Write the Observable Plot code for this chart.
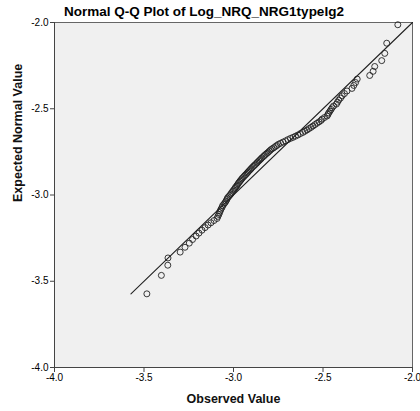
<!DOCTYPE html>
<html>
<head>
<meta charset="utf-8">
<script src="https://cdn.jsdelivr.net/npm/d3@7"></script>
<script src="https://cdn.jsdelivr.net/npm/@observablehq/plot@0.6"></script>
<style>
  body { margin: 0; background: #fff; font-family: "Liberation Sans", Arial, sans-serif; }
  #title { width: 420px; height: 20px; box-sizing: border-box; padding-top: 4px; padding-right: 12px; line-height: 16px;
           text-align: center; font-weight: bold; font-size: 13.5px; color: #000; }
</style>
</head>
<body>
<div id="title">Normal Q-Q Plot of Log_NRQ_NRG1typeIg2</div>
<div id="chart"></div>
<script>
const titleText = "Normal Q-Q Plot of Log_NRQ_NRG1typeIg2";
const xLabel = "Observed Value";
const yLabel = "Expected Normal Value";
const axisTicks = [-4.0, -3.5, -3.0, -2.5, -2.0];

const observed = [
-3.484,-3.403,-3.367,-3.366,-3.298,-3.271,-3.247,-3.229,-3.209,-3.193,
-3.176,-3.159,-3.142,-3.126,-3.109,-3.092,-3.087,-3.082,-3.078,-3.074,
-3.070,-3.064,-3.061,-3.054,-3.047,-3.042,-3.037,-3.034,-3.028,-3.021,
-3.015,-3.010,-3.004,-2.999,-2.993,-2.989,-2.983,-2.979,-2.974,-2.969,
-2.964,-2.959,-2.954,-2.949,-2.942,-2.936,-2.930,-2.924,-2.919,-2.913,
-2.907,-2.902,-2.896,-2.889,-2.883,-2.877,-2.870,-2.865,-2.858,-2.852,
-2.846,-2.841,-2.833,-2.827,-2.820,-2.813,-2.806,-2.799,-2.792,-2.784,
-2.775,-2.766,-2.758,-2.749,-2.737,-2.723,-2.709,-2.696,-2.682,-2.668,
-2.654,-2.640,-2.626,-2.612,-2.601,-2.589,-2.578,-2.567,-2.556,-2.545,
-2.534,-2.522,-2.511,-2.505,-2.492,-2.477,-2.472,-2.468,-2.461,-2.455,
-2.449,-2.441,-2.425,-2.419,-2.412,-2.402,-2.393,-2.380,-2.366,-2.338,
-2.328,-2.318,-2.309,-2.239,-2.220,-2.211,-2.172,-2.155,-2.144,-2.082
];

const expected = [
-3.573,-3.466,-3.407,-3.365,-3.331,-3.303,-3.279,-3.258,-3.238,-3.221,
-3.204,-3.189,-3.174,-3.161,-3.148,-3.136,-3.124,-3.113,-3.102,-3.092,
-3.082,-3.072,-3.062,-3.053,-3.044,-3.035,-3.026,-3.018,-3.010,-3.002,
-2.994,-2.986,-2.978,-2.971,-2.963,-2.956,-2.949,-2.942,-2.934,-2.927,
-2.920,-2.914,-2.907,-2.900,-2.893,-2.886,-2.880,-2.873,-2.867,-2.860,
-2.854,-2.848,-2.841,-2.834,-2.828,-2.822,-2.815,-2.809,-2.802,-2.796,
-2.790,-2.784,-2.777,-2.771,-2.764,-2.758,-2.752,-2.745,-2.738,-2.732,
-2.726,-2.719,-2.713,-2.706,-2.700,-2.693,-2.686,-2.679,-2.672,-2.666,
-2.659,-2.652,-2.644,-2.637,-2.630,-2.623,-2.615,-2.608,-2.600,-2.592,
-2.584,-2.576,-2.568,-2.560,-2.551,-2.542,-2.533,-2.524,-2.514,-2.504,
-2.494,-2.484,-2.473,-2.462,-2.450,-2.438,-2.425,-2.412,-2.397,-2.382,
-2.365,-2.348,-2.328,-2.307,-2.283,-2.255,-2.221,-2.179,-2.120,-2.013
];

const points = observed.map((x, i) => ({x, y: expected[i]}));
const lo = d3.min(expected);
const hi = d3.max(axisTicks);
const refLine = [{x: lo, y: lo}, {x: hi, y: hi}];
const fmt = d => d.toFixed(1);
const font = "'Liberation Sans', Arial, sans-serif";

const chart = Plot.plot({
  width: 420,
  height: 391,
  marginLeft: 54,
  marginRight: 8,
  marginTop: 2,
  marginBottom: 44,
  style: {fontFamily: font, fontSize: "10px", color: "#000", background: "#fff", overflow: "visible"},
  x: {domain: [-4, -2], label: null},
  y: {domain: [-4, -2], label: null},
  marks: [
    Plot.frame({fill: "#F0F0F0", stroke: "#666"}),
    Plot.ruleX([d3.min(axisTicks)], {stroke: "#444"}),
    Plot.ruleY([d3.min(axisTicks)], {stroke: "#444"}),
    Plot.axisX({ticks: axisTicks, tickFormat: fmt, tickSize: 5, tickPadding: 1, label: null, stroke: "#444"}),
    Plot.axisY({ticks: axisTicks, tickFormat: fmt, tickSize: 4, tickPadding: 2, label: null, stroke: "#444"}),
    Plot.line(refLine, {x: "x", y: "y", stroke: "#222", strokeWidth: 1.1}),
    Plot.dot(points, {x: "x", y: "y", r: 3, stroke: "#222", strokeWidth: 0.9, fill: "none"}),
    Plot.text([xLabel], {frameAnchor: "bottom", dy: 35, text: d => d, fontWeight: "bold", fontSize: 12.5, fill: "#111"}),
    Plot.text([yLabel], {frameAnchor: "left", dx: -37, dy: 7, rotate: -90, text: d => d, fontWeight: "bold", fontSize: 12.5, fill: "#111"})
  ]
});
document.getElementById("chart").appendChild(chart);
</script>
</body>
</html>
